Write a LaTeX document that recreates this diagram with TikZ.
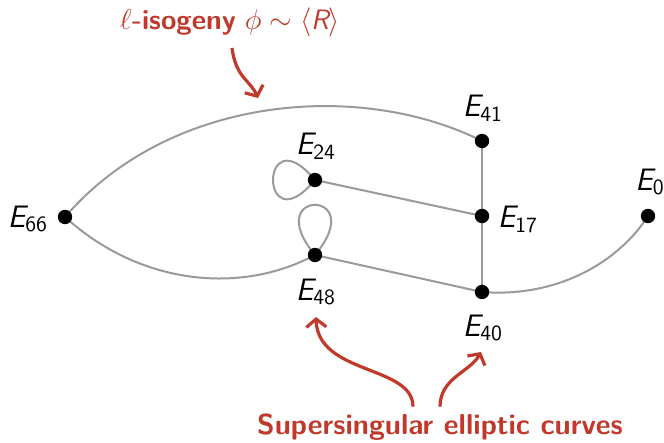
\documentclass[tikz,border=0pt]{standalone}
\usepackage{amsmath,amssymb}
\usepackage{xcolor}
\usetikzlibrary{arrows.meta, backgrounds}

\definecolor{isored}{HTML}{C0392B}
\definecolor{edgegray}{HTML}{9A9A9A}

% curve name E_i in sans italic
\newcommand{\Ecrv}[1]{$\textit{E}_{\text{#1}}$}

\begin{document}
\begin{tikzpicture}[
    x=0.5pt, y=-0.5pt,
    every node/.style={font=\sffamily\fontsize{14}{16}\selectfont},
    vertex/.style={circle, fill=black, inner sep=0pt, minimum size=7.2pt},
    edgeline/.style={edgegray, line width=1pt},
    redarrow/.style={-{Straight Barb[length=4pt, width=10pt]}, isored, line width=1.6pt},
    lbl/.style={inner sep=1pt, font=\sffamily\fontsize{15.5}{18}\selectfont},
    redlbl/.style={isored}
]
\useasboundingbox (0,0) rectangle (664,443);

% ── Curves (vertices) ──
\node[vertex] (e66) at (65,217) {};
\node[vertex] (e24) at (315,180) {};
\node[vertex] (e48) at (315,255) {};
\node[vertex] (e41) at (482,141) {};
\node[vertex] (e17) at (482,216) {};
\node[vertex] (e40) at (482,292) {};
\node[vertex] (e0)  at (648,216) {};

% ── Vertex labels ──
\node[lbl] (l66) at (28,219)  {\Ecrv{66}};
\node[lbl] (l24) at (316,146) {\Ecrv{24}};
\node[lbl] (l48) at (316,292) {\Ecrv{48}};
\node[lbl] (l41) at (483,108) {\Ecrv{41}};
\node[lbl] (l17) at (518,219) {\Ecrv{17}};
\node[lbl] (l40) at (483,328) {\Ecrv{40}};
\node[lbl] (l0)  at (650,182) {\Ecrv{0}};

% ── Isogenies (edges) ──
\begin{scope}[on background layer]
\draw[edgeline] (e66.center) .. controls (170,95) and (360,80) .. (e41.center);
\draw[edgeline] (e66.center) .. controls (140,285) and (240,295) .. (e48.center);
\draw[edgeline] (e24.center) .. controls +(-56,-67) and +(-56,67) .. (e24.center);
\draw[edgeline] (e48.center) .. controls +(-56,-67) and +(56,-67) .. (e48.center);
\draw[edgeline] (e24.center) -- (e17.center);
\draw[edgeline] (e48.center) -- (e40.center);
\draw[edgeline] (e41.center) -- (e17.center) -- (e40.center);
\draw[edgeline] (e40.center) .. controls (560,298) and (620,260) .. (e0.center);
\end{scope}

% ── Annotations ──
\node[redlbl] (iso) at (230,22) {$\ell$\textbf{-isogeny} $\phi\sim\langle\textit{R}\rangle$};
\coordinate (isotip) at (258,98);
\draw[redarrow] (232,48) .. controls (236,78) and (250,80) .. (isotip);

\node[redlbl, font=\sffamily\bfseries\fontsize{14.4}{17}\selectfont] (ssc) at (440,427) {Supersingular elliptic curves};
\coordinate (tip48) at (316,317);
\coordinate (tip40) at (481,352);
\draw[redarrow] (ssc.north -| 413,0) .. controls (413,365) and (318,375) .. (tip48);
\draw[redarrow] (ssc.north -| 440,0) .. controls (440,378) and (470,372) .. (tip40);

\end{tikzpicture}
\end{document}
